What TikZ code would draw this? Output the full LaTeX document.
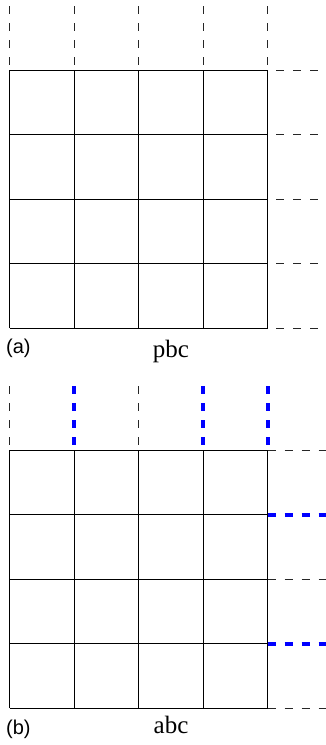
\documentclass[tikz,border=0pt]{standalone}
\usepackage{fontspec}
\setmainfont{Liberation Serif}
\newfontfamily\labelsans{Liberation Sans}
\begin{document}
\begin{tikzpicture}[x=1pt,y=-1pt,
  gridline/.style={line width=1pt, black},
  thindash/.style={line width=0.9pt, black!85, dash pattern=on 8pt off 9pt},
  bluedash/.style={line width=4pt, blue, dash pattern=on 8pt off 9pt},
  panellabel/.style={font=\labelsans\fontsize{20}{20}\selectfont, inner sep=0pt, anchor=base west},
  bclabel/.style={font=\fontsize{25}{25}\selectfont, inner sep=0pt, anchor=base},
]
\useasboundingbox (0,0) rectangle (326,745);

% ---------- panel (a) ----------
\foreach \i in {0,...,4} {
  \draw[gridline] ({9.5+64.5*\i},70) -- ({9.5+64.5*\i},328);
  \draw[gridline] (9.5,{70+64.5*\i}) -- (267.5,{70+64.5*\i});
  \draw[thindash] ({9.5+64.5*\i},6) -- ({9.5+64.5*\i},65);
  \draw[thindash, dash phase=8.5pt] (267.5,{70+64.5*\i}) -- (326,{70+64.5*\i});
}
\node[panellabel] (la) at (6,353) {(a)};
\node[bclabel] (pbc) at (171,357) {pbc};

% ---------- panel (b) ----------
\begin{scope}[shift={(0,380)}]
\foreach \i in {0,...,4} {
  \draw[gridline] ({9.5+64.5*\i},70) -- ({9.5+64.5*\i},328);
  \draw[gridline] (9.5,{70+64.5*\i}) -- (267.5,{70+64.5*\i});
}
\foreach \i in {0,2} {
  \draw[thindash] ({9.5+64.5*\i},6) -- ({9.5+64.5*\i},65);
}
\foreach \i in {1,3,4} {
  \draw[bluedash] ({9.5+64.5*\i},6) -- ({9.5+64.5*\i},65);
}
\foreach \i in {0,2,4} {
  \draw[thindash] (267.5,{70+64.5*\i}) -- (326,{70+64.5*\i});
}
\foreach \i in {1,3} {
  \draw[bluedash] (267.5,{70+64.5*\i}) -- (326,{70+64.5*\i});
}
\end{scope}
\node[panellabel] (lb) at (6,734) {(b)};
\node[bclabel] (abc) at (171,733) {abc};
\end{tikzpicture}
\end{document}
